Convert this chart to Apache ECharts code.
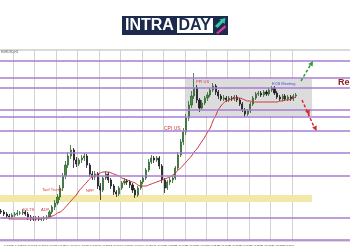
<!DOCTYPE html>
<html><head><meta charset="utf-8">
<script src="https://cdn.jsdelivr.net/npm/echarts@6/dist/echarts.min.js"></script>
<style>html,body{margin:0;padding:0;background:#fff}#c{width:350px;height:250px}</style>
</head><body><div id="c"></div>
<script>
// x-axis tick labels (every 4th bar)
const tickLabels = ["1 Apr 2025","1 Apr 12:00","2 Apr 00:00","2 Apr 12:00","3 Apr 00:00","3 Apr 12:00","4 Apr 00:00","4 Apr 12:00","7 Apr 00:00","7 Apr 12:00","8 Apr 00:00","8 Apr 12:00","9 Apr 00:00","9 Apr 12:00","10 Apr 00:00","10 Apr 12:00","11 Apr 00:00","11 Apr 12:00","14 Apr 00:00","14 Apr 12:00","15 Apr 00:00","15 Apr 12:00","16 Apr 00:00","16 Apr 12:00","17 Apr 00:00","17 Apr 12:00","18 Apr 00:00"];

const opens = [1530,1529,1527,1525,1524,1526,1527,1528,1528,1529,
1527,1524,1523,1522,1523,1522,1522,1523,1524,1529,
1534,1538,1544,1553,1565,1576,1585,1591,1581,1577,
1581,1583,1585,1576,1567,1564,1567,1555,1551,1563,
1567,1561,1555,1549,1547,1553,1558,1560,1559,1556,
1551,1546,1553,1559,1563,1571,1579,1583,1581,1583,
1575,1561,1553,1559,1561,1563,1573,1586,1599,1609,
1623,1636,1645,1653,1641,1633,1638,1643,1646,1651,
1655,1649,1645,1642,1643,1641,1643,1642,1644,1641,
1637,1631,1627,1630,1637,1643,1647,1648,1646,1649,
1647,1651,1653,1648,1644,1642,1645,1642,1644,1642,
1645];
const closes = [1529,1527,1525,1524,1526,1527,1528,1528,1529,1527,
1524,1523,1522,1523,1522,1522,1523,1524,1529,1534,
1538,1544,1553,1565,1576,1585,1591,1581,1577,1581,
1583,1585,1576,1567,1564,1567,1555,1551,1563,1567,
1561,1555,1549,1547,1553,1558,1560,1559,1556,1551,
1546,1553,1559,1563,1571,1579,1583,1581,1583,1575,
1561,1553,1559,1561,1563,1573,1586,1599,1609,1623,
1636,1645,1653,1641,1633,1638,1643,1646,1651,1655,
1649,1645,1642,1643,1641,1643,1642,1644,1641,1637,
1631,1627,1630,1637,1643,1647,1648,1646,1649,1647,
1651,1653,1648,1644,1642,1645,1642,1644,1642,1645,
1646];
const highs = [1532,1531,1529,1527,1528,1529,1531,1530,1532,1531,
1529,1526,1525,1525,1525,1524,1525,1526,1531,1536,
1541,1547,1556,1568,1580,1589,1596,1593,1584,1583,
1586,1588,1587,1578,1570,1570,1569,1558,1565,1570,
1569,1563,1557,1551,1555,1560,1563,1562,1561,1558,
1553,1555,1561,1565,1573,1582,1586,1585,1585,1585,
1577,1563,1561,1563,1565,1575,1589,1602,1613,1627,
1640,1650,1668,1656,1643,1641,1645,1649,1653,1658,
1657,1651,1647,1646,1645,1645,1645,1646,1646,1643,
1639,1633,1632,1639,1645,1649,1650,1650,1651,1651,
1653,1655,1655,1650,1646,1647,1647,1646,1646,1647,
1648];
const lows = [1527,1525,1523,1522,1522,1524,1525,1526,1526,1525,
1521,1520,1520,1520,1520,1520,1520,1521,1522,1527,
1531,1536,1541,1550,1562,1573,1582,1573,1574,1575,
1578,1580,1573,1564,1561,1561,1552,1541,1549,1561,
1558,1552,1546,1544,1545,1551,1556,1556,1553,1548,
1543,1544,1551,1557,1561,1569,1577,1578,1579,1572,
1558,1548,1551,1556,1558,1561,1571,1584,1596,1606,
1620,1633,1642,1638,1629,1631,1636,1640,1644,1649,
1646,1642,1640,1640,1639,1639,1640,1640,1639,1635,
1629,1624,1625,1628,1635,1641,1645,1644,1644,1645,
1645,1649,1646,1642,1640,1640,1640,1640,1640,1640,
1643];
const ma = [1523,1523,1523,1522,1522,1522,1522,1522,1522,1522,
1522,1522,1522,1522,1522,1522,1523,1523,1524,1525,
1526,1528,1529,1531,1534,1537,1540,1543,1546,1550,
1553,1556,1559,1562,1564,1565,1567,1568,1569,1569,
1569,1568,1567,1566,1565,1563,1562,1561,1560,1559,
1558,1556,1555,1555,1555,1556,1557,1558,1559,1560,
1561,1562,1563,1564,1566,1568,1571,1573,1576,1579,
1582,1585,1589,1592,1596,1600,1604,1609,1613,1620,
1625,1631,1635,1638,1640,1641,1642,1643,1643,1643,
1642,1641,1640,1640,1639,1639,1639,1639,1639,1639,
1639,1639,1639,1639,1640,1640,1641,1641,1642,1643,
1644];
const levels = [1680,1663,1653,1631,1624,1610,1588,1565,1523,1501];
const supportZone = [1539,1546];
const rangeBox = [1625,1662];

// layout constants
const LEAD = 3, N = 134, LAST_GRID = 120, ZONE_END = 119, BOX_START = 72, LABEL_STEP = 4;
const cats = Array.from({length: N}, (_, i) => String(i));
const candle = cats.map((_, i) => { const k = i - LEAD; return (k >= 0 && k < closes.length) ? [opens[k], closes[k], lows[k], highs[k]] : '-'; });
const maData = cats.map((_, i) => { const k = i - LEAD; return (k >= 0 && k < ma.length) ? ma[k] : '-'; });
const labelFor = (v) => { const i = +v; const t = i / LABEL_STEP - 1; return (i % LABEL_STEP === 0 && t >= 0 && t < tickLabels.length) ? tickLabels[t] : ''; };

const red = '#cf3b3b';
const txt = (t, x, y, size, color, weight) => ({type:'text', x:x, y:y, z:100, style:{text:t, fill:color, fontSize:size, fontWeight:weight||'normal', fontFamily:'Liberation Sans', verticalAlign:'middle'}});

const chart = echarts.init(document.getElementById('c'), null, {renderer:'canvas'});
chart.setOption({
  animation: false,
  backgroundColor: '#fff',
  grid: {left: -8.13, top: 50, width: 359, height: 191, show: true, borderColor: '#b5b5b5', borderWidth: 1, outerBoundsMode: 'none', containLabel: false},
  xAxis: [{
    type: 'category', data: cats, boundaryGap: true,
    axisLine: {show: false}, axisTick: {show: false},
    axisLabel: {interval: 0, hideOverlap: false, formatter: labelFor, fontSize: 2, color: '#333', align: 'left', margin: 3, fontFamily: 'Liberation Sans'},
    splitLine: {show: true, interval: (i) => i % 8 === 0 && i > 0 && i < LAST_GRID, lineStyle: {color: '#d2d2d2', width: 1}}
  },{
    type: 'category', data: cats, boundaryGap: true, gridIndex: 0,
    axisLine: {show: false}, axisTick: {show: false}, axisLabel: {show: false},
    splitLine: {show: true, interval: (i) => i === LAST_GRID, lineStyle: {color: '#9a9a9a', width: 1, type: [3, 2]}}
  }],
  yAxis: {type: 'value', min: 1500, max: 1691, axisLabel: {show: false}, axisLine: {show: false}, axisTick: {show: false}, splitLine: {show: false}},
  series: [
    {type: 'line', data: [], z: 1, silent: true,
     markArea: {silent: true, data: [
       [{xAxis: 0, yAxis: supportZone[1], itemStyle: {color: '#f2e8a8'}}, {xAxis: ZONE_END, yAxis: supportZone[0]}],
       [{xAxis: BOX_START, yAxis: rangeBox[1], itemStyle: {color: '#dcdcdc'}}, {xAxis: ZONE_END, yAxis: rangeBox[0]}]
     ]}},
    {type: 'line', data: [], z: 2, silent: true,
     markLine: {silent: true, symbol: 'none', label: {show: false}, lineStyle: {color: '#a77dd2', width: 1.5, type: 'solid'},
       data: levels.map(v => ({yAxis: v}))}},
    {type: 'candlestick', data: candle, z: 3, barWidth: 1.6,
     itemStyle: {color: '#4d8a4d', color0: '#222', borderColor: '#2f662f', borderColor0: '#1a1a1a', borderWidth: 0.8}},
    {type: 'line', data: maData, z: 4, symbol: 'none', smooth: true, lineStyle: {color: '#c9323c', width: 1}}
  ],
  graphic: [
    {type:'rect', shape:{x:122, y:16, width:106, height:19}, style:{fill:'#1c2b4b'}, z:100},
    txt('INTRA', 125, 26, 16, '#fff', 'bold'),
    {type:'rect', shape:{x:177, y:18, width:36, height:15}, style:{fill:'#fff'}, z:100},
    txt('DAY', 178.5, 26, 16, '#1c2b4b', 'bold'),
    {type:'polygon', shape:{points:[[215,26],[221,20],[219,19.5],[225.5,18],[224.5,24],[223,22.5],[217.5,28]]}, style:{fill:'#35c9a4'}, z:101},
    {type:'polygon', shape:{points:[[216,33],[225,25],[226,27.5],[218,34]]}, style:{fill:'#d83aa2'}, z:101},
    txt('EURUSD,H1', 1, 52.5, 3, '#555'),
    txt('JOLTS', 22, 210, 4, red),
    txt('ADP', 41, 210, 4, red),
    txt('Tarif Trump', 42, 190, 4, red),
    txt('NFP', 86, 191, 4, red),
    txt('CPI US', 164, 129, 5, red),
    txt('PPI US', 196, 82, 4, red),
    txt('ECB Meeting', 272, 84, 4, '#3b5bd0'),
    txt('Resistance', 338, 83, 9, '#8b1c1c', 'bold'),
    {type:'polyline', shape:{points:[[301,81],[311,64]]}, style:{stroke:'#2e9a3a', lineWidth:1.5, lineDash:[3,2], fill:null}, z:100},
    {type:'polygon', shape:{points:[[313,61],[312.7,66.5],[308.3,64.1]]}, style:{fill:'#2e9a3a'}, z:100},
    {type:'polyline', shape:{points:[[302,100],[315,129]]}, style:{stroke:'#d42a2a', lineWidth:1.5, lineDash:[3,2], fill:null}, z:100},
    {type:'polygon', shape:{points:[[309.5,115],[309.7,109.4],[305.2,111.5]]}, style:{fill:'#d42a2a'}, z:100},
    {type:'polygon', shape:{points:[[316.5,131],[316.7,125.4],[312.2,127.5]]}, style:{fill:'#d42a2a'}, z:100}
  ]
});
</script></body></html>
